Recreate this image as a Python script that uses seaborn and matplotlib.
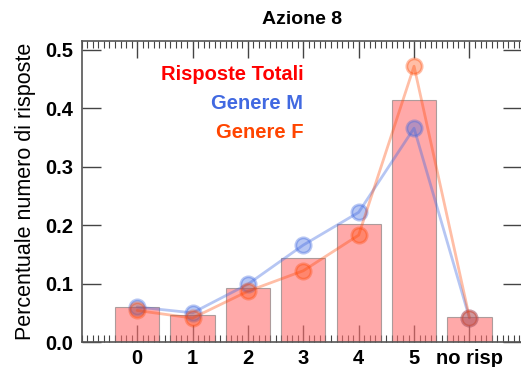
import numpy as np
import pandas as pd
import matplotlib
matplotlib.use("Agg")
import matplotlib.pyplot as plt
from matplotlib.ticker import MultipleLocator
import seaborn as sns

# Data
categorie = ["0", "1", "2", "3", "4", "5", "no risp"]
totali = [0.060, 0.047, 0.092, 0.143, 0.202, 0.415, 0.043]
genere_m = [0.060, 0.050, 0.099, 0.166, 0.222, 0.366, 0.041]
genere_f = [0.054, 0.041, 0.087, 0.122, 0.183, 0.472, 0.042]

sns.set_style("white")
plt.rcParams['font.family'] = ['Liberation Sans', 'DejaVu Sans']
plt.rcParams['text.color'] = 'black'
plt.rcParams['xtick.color'] = 'black'
plt.rcParams['ytick.color'] = 'black'
plt.rcParams['axes.labelcolor'] = 'black'

df = pd.DataFrame({"pos": np.arange(len(categorie)), "cat": categorie,
                   "tot": totali, "m": genere_m, "f": genere_f})

fig = plt.figure(figsize=(5.21, 3.67), dpi=100)
ax = fig.add_axes([0.157, 0.068, 0.845, 0.820])

# Bars
sns.barplot(data=df, x="pos", y="tot", native_scale=True, width=0.8, saturation=1,
            color="#ff7070", alpha=0.6, edgecolor="#777777", linewidth=0.8, ax=ax)

# Lines
sns.lineplot(data=df, x="pos", y="m", color="royalblue", alpha=0.38, lw=2,
             marker="o", markersize=11, markeredgewidth=2,
             markerfacecolor=(0.25, 0.41, 0.88, 0.3), markeredgecolor=(0.25, 0.41, 0.88, 0.4), ax=ax)
sns.lineplot(data=df, x="pos", y="f", color="orangered", alpha=0.35, lw=2,
             marker="o", markersize=11, markeredgewidth=2,
             markerfacecolor=(1.0, 0.27, 0.0, 0.28), markeredgecolor=(1.0, 0.27, 0.0, 0.38), ax=ax)

ax.set_xlim(-1, 6.95)
ax.set_ylim(0, 0.515)
ax.set_xticks(df["pos"])
ax.set_xticklabels(categorie, fontsize=14.5, fontweight="bold")
ax.set_yticks(np.arange(0, 0.51, 0.1))
ax.set_yticklabels(["%.1f" % v for v in np.arange(0, 0.51, 0.1)], fontsize=14.5, fontweight="bold")
ax.xaxis.set_minor_locator(MultipleLocator(0.1))
ax.tick_params(axis="x", which="major", direction="in", length=12, width=1,
               color="#444444", top=True, bottom=True, pad=5)
ax.tick_params(axis="x", which="minor", direction="in", length=5, width=0.8,
               color="#444444", top=True, bottom=True)
ax.tick_params(axis="y", which="major", direction="in", length=14, width=1,
               color="#444444", left=True, right=True, pad=6)
for s in ax.spines.values():
    s.set_color("#555555")
    s.set_linewidth(1.2)

ax.set_xlabel("")
ax.set_ylabel("Percentuale numero di risposte", fontsize=15.5, labelpad=7)
ax.set_title("Azione 8", fontsize=14, fontweight="bold", pad=12)

ax.text(0.503, 0.889, "Risposte Totali", color="red", fontsize=14.5, fontweight="bold",
        ha="right", va="center", transform=ax.transAxes)
ax.text(0.503, 0.793, "Genere M", color="royalblue", fontsize=14.5, fontweight="bold",
        ha="right", va="center", transform=ax.transAxes)
ax.text(0.503, 0.696, "Genere F", color="orangered", fontsize=14.5, fontweight="bold",
        ha="right", va="center", transform=ax.transAxes)

fig.savefig("out.png", dpi=100)
